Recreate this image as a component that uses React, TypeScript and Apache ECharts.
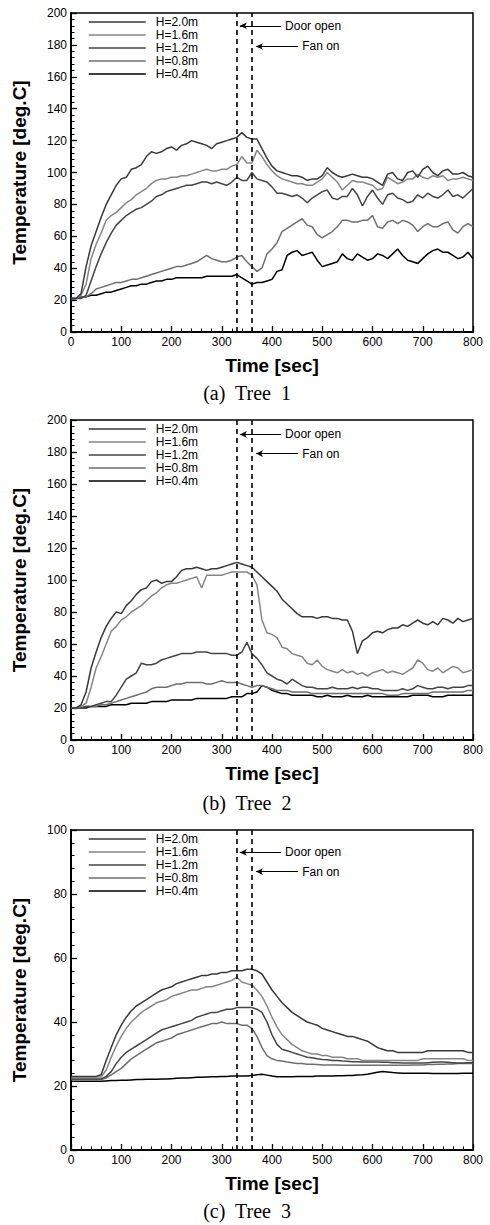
import React, { useEffect, useRef } from "react";
import * as echarts from "echarts";

const TIME = [
  0, 10, 20, 30, 40, 50, 60, 70, 80, 90,
  100, 110, 120, 130, 140, 150, 160, 170, 180, 190,
  200, 210, 220, 230, 240, 250, 260, 270, 280, 290,
  300, 310, 320, 330, 340, 350, 360, 370, 380, 390,
  400, 410, 420, 430, 440, 450, 460, 470, 480, 490,
  500, 510, 520, 530, 540, 550, 560, 570, 580, 590,
  600, 610, 620, 630, 640, 650, 660, 670, 680, 690,
  700, 710, 720, 730, 740, 750, 760, 770, 780, 790,
  800,
];

const SERIES_NAMES = ["H=2.0m", "H=1.6m", "H=1.2m", "H=0.8m", "H=0.4m"];
const SERIES_COLORS = ["#383838", "#858585", "#454545", "#6e6e6e", "#000000"];

// ---- Tree 1 ----
const P1_H20 = [
  21, 21, 24, 41, 54, 63, 72, 80, 86, 92,
  96, 97, 102, 103, 105, 110, 113, 112, 113, 115,
  116, 114, 117, 118, 120, 119, 118, 117, 115, 118,
  119, 120, 121, 122, 125, 122, 121, 121, 115, 109,
  104, 101, 100, 99, 98, 98, 97, 95, 96, 96,
  98, 103, 100, 98, 97, 98, 99, 98, 97, 97,
  96, 94, 92, 99, 100, 96, 95, 100, 101, 97,
  102, 104, 100, 98, 101, 102, 99, 99, 100, 98,
  97,
];
const P1_H16 = [
  21, 21, 23, 30, 46, 55, 62, 70, 73, 75,
  78, 81, 83, 86, 88, 90, 93, 95, 96, 96,
  97, 97, 98, 98, 99, 100, 101, 102, 101, 101,
  102, 102, 104, 105, 110, 106, 106, 114, 110, 105,
  101, 98, 96, 95, 94, 93, 93, 92, 92, 94,
  96, 100, 97, 94, 89, 92, 95, 94, 94, 93,
  92, 89, 90, 97, 95, 93, 94, 96, 96, 99,
  97, 96, 98, 97, 98, 95, 96, 96, 97, 96,
  95,
];
const P1_H12 = [
  21, 21, 21, 23, 32, 41, 49, 56, 62, 67,
  70, 73, 75, 77, 78, 80, 82, 85, 86, 88,
  89, 90, 91, 92, 92, 93, 94, 94, 93, 94,
  93, 92, 94, 97, 95, 95, 100, 96, 95, 94,
  91, 87, 87, 86, 85, 86, 84, 81, 84, 86,
  88, 89, 84, 83, 85, 85, 90, 86, 79, 85,
  89, 84, 80, 86, 87, 84, 83, 81, 82, 86,
  84, 87, 85, 84, 86, 89, 85, 86, 84, 87,
  90,
];
const P1_H08 = [
  21, 21, 22, 22, 24, 27, 28, 29, 30, 31,
  31, 32, 33, 33, 34, 35, 36, 37, 38, 39,
  40, 41, 41, 42, 43, 44, 46, 48, 46, 45,
  44, 44, 45, 47, 48, 44, 41, 38, 40, 49,
  52, 56, 63, 65, 67, 69, 71, 67, 66, 61,
  59, 61, 63, 66, 70, 70, 69, 69, 70, 70,
  73, 66, 65, 69, 70, 68, 70, 69, 67, 63,
  66, 68, 66, 66, 68, 69, 64, 62, 66, 68,
  66,
];
const P1_H04 = [
  21, 21, 22, 22, 23, 23, 24, 25, 25, 26,
  27, 28, 29, 29, 30, 30, 31, 32, 32, 33,
  33, 34, 34, 34, 34, 34, 34, 35, 35, 35,
  35, 35, 35, 36, 34, 32, 30, 31, 31, 32,
  33, 38, 39, 48, 50, 51, 48, 49, 50, 45,
  41, 42, 43, 44, 49, 46, 45, 49, 47, 45,
  46, 49, 48, 46, 49, 52, 48, 45, 44, 43,
  46, 49, 51, 52, 50, 50, 48, 46, 47, 50,
  46,
];

// ---- Tree 2 ----
const P2_H20 = [
  20, 20, 22, 30, 45, 55, 64, 71, 76, 80,
  79, 84, 87, 91, 94, 95, 99, 100, 98, 99,
  99, 102, 106, 107, 107, 108, 107, 106, 107, 107,
  108, 109, 110, 111, 110, 109, 108, 105, 102, 99,
  96, 93, 88, 85, 82, 79, 77, 77, 77, 76,
  77, 77, 76, 76, 75, 75, 68, 54, 62, 64,
  67, 68, 67, 69, 70, 70, 72, 71, 73, 75,
  73, 72, 74, 72, 76, 75, 73, 76, 74, 75,
  76,
];
const P2_H16 = [
  20, 20, 21, 23, 33, 45, 52, 60, 68, 71,
  75, 77, 80, 82, 84, 87, 90, 92, 95, 97,
  98, 98, 99, 100, 101, 102, 95, 103, 103, 103,
  103, 104, 105, 105, 105, 105, 103, 97, 75, 67,
  66, 64, 58, 57, 54, 53, 52, 48, 47, 50,
  46, 44, 43, 42, 44, 42, 43, 41, 42, 40,
  42, 43, 44, 42, 43, 42, 41, 43, 45, 50,
  48, 44, 43, 45, 42, 44, 46, 45, 42, 43,
  44,
];
const P2_H12 = [
  20, 20, 20, 21, 21, 22, 23, 24, 24, 28,
  33, 38, 40, 42, 48, 47, 47, 48, 50, 51,
  52, 53, 54, 54, 54, 55, 55, 55, 54, 54,
  54, 54, 53, 53, 55, 61, 54, 51, 47, 42,
  40, 38, 37, 35, 38, 36, 34, 33, 33, 32,
  32, 32, 33, 32, 32, 32, 33, 32, 33, 33,
  32, 32, 31, 31, 31, 31, 32, 31, 32, 34,
  33, 32, 32, 33, 33, 32, 33, 33, 33, 34,
  34,
];
const P2_H08 = [
  20, 20, 20, 21, 21, 21, 22, 22, 23, 24,
  25, 26, 27, 28, 29, 30, 32, 33, 33, 33,
  34, 35, 35, 36, 36, 36, 36, 35, 35, 36,
  37, 36, 36, 36, 35, 34, 33, 34, 34, 33,
  32, 31, 31, 31, 30, 30, 30, 30, 29, 29,
  29, 29, 29, 29, 29, 29, 29, 29, 29, 29,
  29, 29, 29, 28, 28, 28, 29, 29, 29, 29,
  29, 29, 30, 30, 30, 30, 30, 30, 30, 31,
  31,
];
const P2_H04 = [
  20, 20, 20, 20, 21, 21, 21, 21, 22, 22,
  22, 22, 23, 23, 23, 23, 24, 24, 24, 24,
  25, 25, 25, 25, 25, 26, 26, 26, 26, 26,
  26, 26, 27, 27, 27, 29, 29, 30, 34, 33,
  31, 30, 29, 29, 28, 28, 28, 28, 28, 27,
  27, 28, 27, 27, 27, 28, 27, 27, 27, 28,
  27, 27, 27, 27, 27, 27, 27, 27, 28, 28,
  28, 28, 27, 27, 27, 28, 28, 28, 28, 28,
  28,
];

// ---- Tree 3 ----
const P3_H20 = [
  23, 23, 23, 23, 23, 23, 23.5, 28, 32, 36,
  39, 41.5, 43.5, 45, 46, 47, 48, 49, 50, 50.5,
  51, 52, 52.5, 53, 53.5, 54, 54.5, 54.5, 55, 55,
  55.5, 55.5, 56, 56, 56, 56.5, 56.5, 56, 55, 52.5,
  50, 48, 46, 44.5, 43, 42, 41, 40, 39.5, 39,
  38, 37.5, 37, 36.5, 36, 35.5, 35.5, 35, 34.5, 34,
  33, 32, 31.5, 31, 31, 30.5, 30.5, 30.5, 30.5, 30.5,
  30.5, 31, 31, 31, 31, 31, 31, 31, 31, 30.5,
  30.5,
];
const P3_H16 = [
  22.8, 22.8, 22.8, 22.8, 22.8, 22.8, 22.8, 25, 29, 32.5,
  35.5, 38, 40, 41.5, 43, 44, 45, 46, 46.5, 47,
  48, 48.5, 49, 49.5, 50, 50, 50.5, 51, 51, 51.5,
  52, 52.5, 53, 54, 52.5, 52, 51.5, 50, 48, 45,
  41.5, 38.5, 36, 34.5, 33, 32, 31, 30.5, 30, 30,
  29.5, 29.5, 29, 29, 29, 28.5, 28.5, 28.5, 28, 28,
  28, 28, 28, 28, 28, 28, 28, 28, 28, 28,
  28.5, 28.5, 28.5, 28.5, 28.5, 28.5, 28.5, 28.5, 28.5, 28,
  28,
];
const P3_H12 = [
  22.2, 22.2, 22.2, 22.2, 22.2, 22.2, 22.2, 23, 24.5, 27,
  29, 30.5, 31.5, 32.5, 33.5, 34.5, 35.5, 36.5, 37.5, 38,
  38.5, 39, 39.5, 40, 40.5, 41.5, 42, 42.5, 43, 43,
  43.5, 44, 44, 44.5, 44.5, 44.5, 44.5, 44, 43, 40,
  36, 33, 31.5, 31, 30.5, 30, 29.5, 29, 28.8, 28.5,
  28.3, 28.2, 28, 28, 27.8, 27.7, 27.6, 27.6, 27.5, 27.5,
  27.5, 27.5, 27.4, 27.4, 27.3, 27.3, 27.2, 27.2, 27.2, 27.2,
  27.2, 27.3, 27.4, 27.5, 27.5, 27.4, 27.3, 27.2, 27.2, 27.3,
  27.3,
];
const P3_H08 = [
  22, 22, 22, 22, 22, 22, 22, 22.5, 23.5, 24.5,
  25.5, 27, 28.5, 29.5, 30.5, 31.5, 32.5, 33.5, 34, 34.5,
  35, 36, 36.5, 37, 37.5, 38, 38.5, 39, 39.5, 39.5,
  40, 39.5, 39.5, 39.5, 39, 39, 38, 35.5, 32, 29.5,
  28.5, 28, 27.8, 27.5, 27.3, 27, 27, 26.8, 26.8, 26.7,
  26.6, 26.6, 26.6, 26.6, 26.5, 26.5, 26.5, 26.5, 26.5, 26.5,
  26.5, 26.5, 26.5, 26.5, 26.5, 26.5, 26.5, 26.5, 26.6, 26.6,
  26.6, 26.7, 26.7, 26.8, 26.8, 26.9, 26.9, 27, 27, 27,
  27,
];
const P3_H04 = [
  21.5, 21.5, 21.5, 21.5, 21.5, 21.5, 21.5, 21.6, 21.7, 21.7,
  21.8, 21.8, 21.9, 22, 22, 22.1, 22.1, 22.1, 22.2, 22.2,
  22.3, 22.4, 22.5, 22.5, 22.6, 22.7, 22.7, 22.8, 22.9, 22.9,
  23, 23, 23.1, 23.1, 23.1, 23.1, 23.3, 23.5, 23.7, 23.4,
  23.1, 22.9, 22.9, 22.9, 22.9, 23, 23, 23, 23, 23.1,
  23.1, 23.1, 23.1, 23.2, 23.2, 23.3, 23.3, 23.4, 23.5, 23.7,
  24, 24.3, 24.5, 24.4, 24.2, 24.1, 24, 24, 24, 24,
  24, 24, 23.9, 23.9, 23.9, 23.9, 23.9, 23.9, 24, 24,
  24,
];

const PANELS = [
  [P1_H20, P1_H16, P1_H12, P1_H08, P1_H04],
  [P2_H20, P2_H16, P2_H12, P2_H08, P2_H04],
  [P3_H20, P3_H16, P3_H12, P3_H08, P3_H04],
];
const Y_MAX = [200, 200, 100];
const CAPTIONS = ["(a)  Tree  1", "(b)  Tree  2", "(c)  Tree  3"];
const EVENT_TIMES = [330, 360];
const EVENT_LABELS = ["Door open", "Fan on"];
const ARROW_TAIL = [418, 452];
const ARROW_HEAD = [336, 368];
const ARROW_TEMP = [
  [192, 179],
  [191, 179],
  [93, 87],
];

const GRID_TOP = [13, 420, 830];
const GRID_H = [319, 320, 320];
const GRID_LEFT = 71;
const GRID_W = 402;
const CAPTION_Y = [393, 803, 1211];

const SANS = "'Liberation Sans', Arial, Helvetica, sans-serif";
const SERIF = "'Liberation Serif', 'Times New Roman', serif";

export default function App() {
  const ref = useRef<HTMLDivElement>(null);

  useEffect(() => {
    document.body.style.margin = "0";
    if (!ref.current) return;
    const chart = echarts.init(ref.current, undefined, { renderer: "svg" });

    const grid = [0, 1, 2].map((i) => ({
      left: GRID_LEFT,
      top: GRID_TOP[i],
      width: GRID_W,
      height: GRID_H[i],
      show: true,
      borderColor: "#000",
      borderWidth: 1.5,
      backgroundColor: "transparent",
    }));

    const xAxis = [0, 1, 2].map((i) => ({
      type: "value",
      gridIndex: i,
      min: 0,
      max: 800,
      interval: 100,
      name: "Time [sec]",
      nameLocation: "middle",
      nameGap: 24,
      nameTextStyle: { fontFamily: SANS, fontSize: 19, fontWeight: "bold", color: "#000" },
      axisLine: { show: true, onZero: false, lineStyle: { color: "#000", width: 2 } },
      axisTick: { show: true, inside: true, length: 6, lineStyle: { color: "#000", width: 1.3 } },
      minorTick: { show: true, splitNumber: 5, length: 3.5, lineStyle: { color: "#000", width: 1 } },
      axisLabel: { color: "#000", fontSize: 12, fontFamily: SANS, margin: 4 },
      splitLine: { show: false },
    }));

    const yAxis = [0, 1, 2].map((i) => ({
      type: "value",
      gridIndex: i,
      min: 0,
      max: Y_MAX[i],
      interval: 20,
      name: "Temperature [deg.C]",
      nameLocation: "middle",
      nameGap: 42,
      nameTextStyle: { fontFamily: SANS, fontSize: 19, fontWeight: "bold", color: "#000" },
      axisLine: { show: true, onZero: false, lineStyle: { color: "#000", width: 2 } },
      axisTick: { show: true, inside: true, length: 6, lineStyle: { color: "#000", width: 1.3 } },
      minorTick: { show: true, splitNumber: 5, length: 3.5, lineStyle: { color: "#000", width: 1 } },
      axisLabel: { color: "#000", fontSize: 12, fontFamily: SANS, margin: 4 },
      splitLine: { show: false },
    }));

    const legend = [0, 1, 2].map((i) => ({
      data: SERIES_NAMES,
      orient: "vertical",
      left: 88,
      top: GRID_TOP[i] + 3,
      itemWidth: 57,
      itemHeight: 14,
      itemGap: 1,
      selectedMode: false,
      padding: 0,
      itemStyle: { opacity: 0 },
      lineStyle: { width: 1.5 },
      textStyle: { fontFamily: SANS, fontSize: 12, color: "#000", padding: [0, 0, 0, 5] },
    }));

    const series: any[] = [];
    PANELS.forEach((panel, p) => {
      panel.forEach((vals, s) => {
        const item: any = {
          type: "line",
          name: SERIES_NAMES[s],
          xAxisIndex: p,
          yAxisIndex: p,
          data: TIME.map((t, k) => [t, vals[k]]),
          symbol: "none",
          color: SERIES_COLORS[s],
          lineStyle: { color: SERIES_COLORS[s], width: 1.5 },
          itemStyle: { color: SERIES_COLORS[s] },
          z: 5 - s,
        };
        if (s === 4) {
          item.markLine = {
            silent: true,
            symbol: "none",
            label: { show: false },
            lineStyle: { color: "#000", width: 1.6, type: [5, 4] },
            data: EVENT_TIMES.map((t) => ({ xAxis: t })),
            z: 10,
          };
        }
        if (s === 0) {
          item.markLine = {
            silent: true,
            symbol: ["none", "arrow"],
            symbolSize: [5, 7],
            lineStyle: { color: "#000", width: 1.2, type: "solid" },
            label: {
              show: true,
              position: "start",
              distance: 4,
              color: "#000",
              fontSize: 12,
              fontFamily: SANS,
            },
            data: EVENT_LABELS.map((lab, e) => [
              { coord: [ARROW_TAIL[e], ARROW_TEMP[p][e]], name: lab, label: { formatter: lab } },
              { coord: [ARROW_HEAD[e], ARROW_TEMP[p][e]] },
            ]),
            z: 10,
          };
        }
        series.push(item);
      });
    });

    const graphic = CAPTIONS.map((c, i) => ({
      type: "text",
      x: 247,
      y: CAPTION_Y[i],
      style: {
        text: c,
        fill: "#000",
        font: `20px ${SERIF}`,
        textAlign: "center",
        textVerticalAlign: "middle",
      },
    }));

    chart.setOption({
      animation: false,
      backgroundColor: "#fff",
      grid,
      xAxis,
      yAxis,
      legend,
      series,
      graphic,
    } as any);

    return () => chart.dispose();
  }, []);

  return <div ref={ref} style={{ width: 490, height: 1225 }} />;
}
